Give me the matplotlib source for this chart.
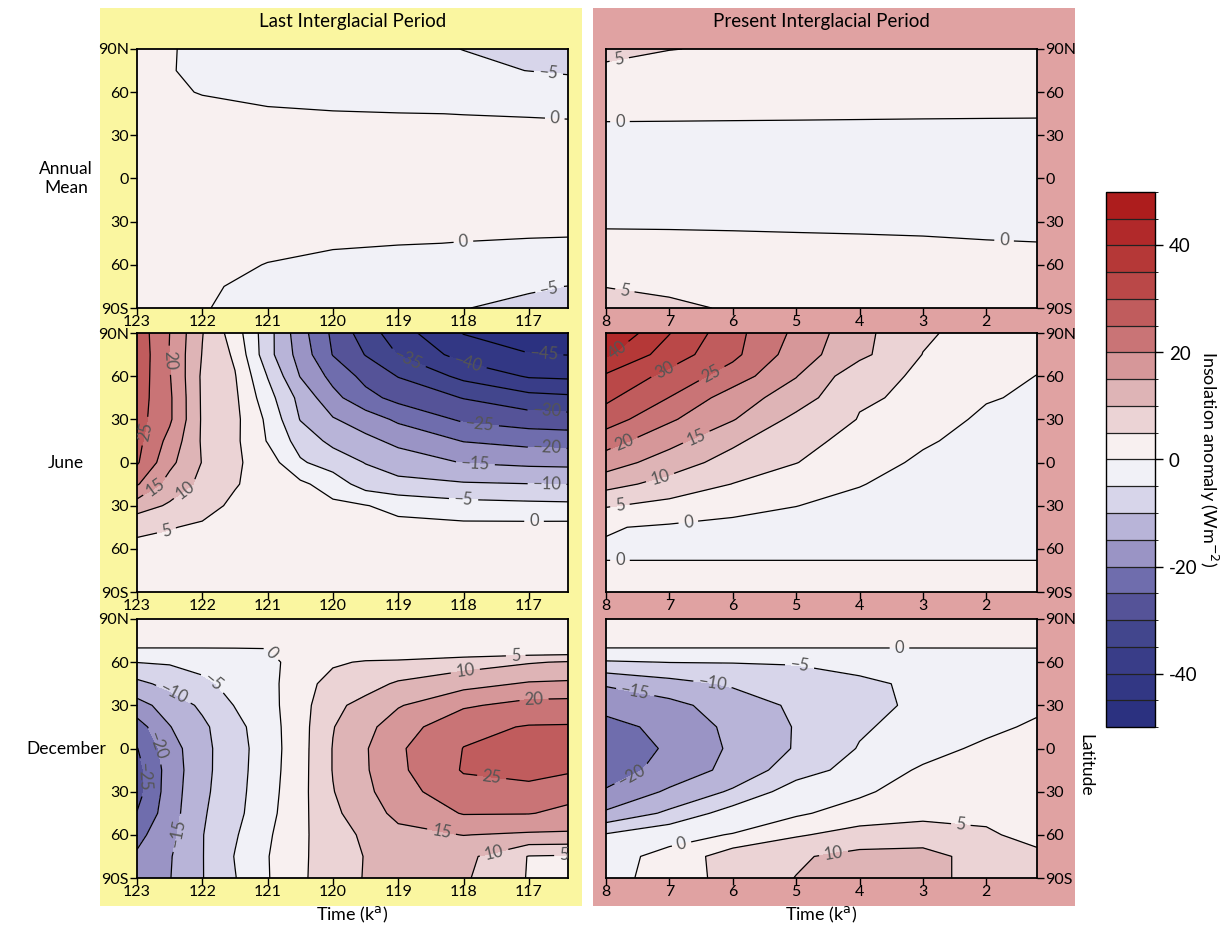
import numpy as np
import matplotlib
matplotlib.use("Agg")
import matplotlib.pyplot as plt
from matplotlib.colors import ListedColormap, BoundaryNorm
from matplotlib.patches import Rectangle
import matplotlib.colorbar as mcolorbar

plt.rcParams['font.family'] = ['Lato', 'DejaVu Sans']

# ============================================================
# GRIDS
# ============================================================

lat = [90, 75, 60, 45, 30, 15, 0, -15, -30, -45, -60, -75, -90]
lat_dec = [90, 75, 70, 60, 45, 30, 15, 0, -15, -30, -45, -60, -75, -90]

time_lig_ann = [123, 122.5, 122, 121, 120, 119, 118, 117, 116.4]
time_lig = [123, 122.5, 122, 121.5, 121, 120.5, 120, 119.5, 119, 118, 117, 116.4]
time_hol = [8, 7, 6, 5, 4, 3, 2, 1.2]

# ============================================================
# INSOLATION ANOMALIES (W m-2), rows = latitude, cols = time
# ============================================================

annual_lig = [
    [2.0, 0.3, -1.0, -2.3, -3.3, -4.2, -5.05, -6.0, -6.6],
    [1.5, 0.2, -0.8, -1.8, -2.7, -3.5, -4.3, -5.05, -5.5],
    [1.2, 0.3, -0.1, -0.8, -1.3, -1.7, -2.1, -2.6, -2.9],
    [1.0, 0.8, 0.6, 0.4, 0.2, 0.07, -0.03, -0.1, -0.15],
    [1.2, 1.1, 1.0, 0.9, 0.8, 0.7, 0.6, 0.5, 0.45],
    [1.3, 1.2, 1.1, 1.0, 0.95, 0.9, 0.85, 0.8, 0.8],
    [1.3, 1.2, 1.1, 1.0, 0.95, 0.9, 0.85, 0.8, 0.8],
    [1.3, 1.2, 1.1, 1.0, 0.95, 0.9, 0.85, 0.8, 0.8],
    [1.2, 1.1, 1.0, 0.9, 0.8, 0.7, 0.6, 0.5, 0.5],
    [1.0, 0.8, 0.6, 0.4, 0.25, 0.1, -0.05, -0.15, -0.2],
    [1.2, 0.9, 0.5, -0.05, -0.6, -1.1, -1.6, -2.0, -2.3],
    [1.8, 1.2, 0.4, -0.8, -1.8, -2.8, -3.8, -4.6, -5.05],
    [2.2, 1.2, 0.2, -1.3, -2.5, -3.7, -4.9, -5.8, -6.3],
]

june_lig = [
    [28, 20, 10.2, 2.5, -8, -18, -26, -32.5, -37.8, -45.2, -47.5, -48],
    [28.5, 19.8, 9.8, 4.2, -8.2, -17, -25.2, -30.2, -35.2, -42, -44.8, -45.1],
    [28, 20.3, 9.2, 5.3, -5.2, -15.2, -21.5, -26.5, -30.2, -36.3, -40.5, -40.9],
    [27.5, 20.8, 9.3, 5.9, -3, -11.5, -18.5, -23.4, -26.5, -30.2, -33.3, -34],
    [27, 20.8, 9.4, 6.2, -1, -10.2, -14.6, -17.5, -20.9, -25.8, -27.6, -28],
    [26.5, 18.4, 9.4, 6.0, -0.3, -7, -11.3, -13.7, -16.2, -20.2, -21.6, -22],
    [25.6, 16.3, 9.8, 5.8, 2.5, -4.4, -7.2, -10.2, -12.4, -15.2, -16.1, -16.3],
    [20.5, 13, 8.8, 5.3, 3.2, 1.0, -2.3, -7.2, -8.6, -9.5, -9.9, -10.1],
    [12.5, 9.3, 6.5, 4.2, 3.2, 2.2, 1.0, 0.2, -1.5, -3.2, -3.7, -3.9],
    [5.9, 5.2, 4.4, 3.6, 3.0, 2.5, 2.1, 1.8, 1.5, 1.3, 1.4, 1.5],
    [4.0, 3.7, 3.4, 3.1, 2.9, 2.7, 2.6, 2.5, 2.5, 2.5, 2.5, 2.5],
    [3.0, 2.9, 2.8, 2.7, 2.6, 2.5, 2.5, 2.5, 2.5, 2.7, 2.8, 2.8],
    [2.5, 2.5, 2.4, 2.4, 2.3, 2.3, 2.3, 2.4, 2.5, 2.8, 2.9, 3.0],
]

dec_lig = [
    [0.3] * 12,
    [0.3] * 12,
    [0.05] * 12,
    [-4.9, -4.5, -3.5, -1.9, -0.8, 1.2, 4.2, 5.55, 5.87, 7.65, 9.6, 10.4],
    [-11.3, -8.5, -6.0, -3.6, -1.4, 2.6, 7.2, 8.2, 10.64, 13.3, 15.5, 15.8],
    [-16.8, -12.9, -9.1, -4.8, -1.7, 3.0, 8.9, 11.5, 14.6, 19.3, 21.7, 21.9],
    [-22.3, -15.2, -11.0, -6.5, -2.2, 3.1, 9.8, 13.6, 17.6, 23.8, 25.3, 25.4],
    [-25.2, -17.3, -11.4, -7.0, -2.4, 3.1, 10.2, 14.6, 19.3, 25.1, 27.5, 27.3],
    [-26.8, -17.8, -11.4, -6.9, -2.2, 3.2, 10.2, 14.5, 19.0, 25.4, 26.3, 25.7],
    [-26.9, -17.5, -11.1, -6.7, -1.9, 3.4, 9.8, 13.8, 18.2, 23.0, 23.8, 21.5],
    [-24.8, -17.2, -10.6, -6.4, -1.5, 3.6, 9.0, 12.6, 16.3, 20.3, 20.2, 19.0],
    [-21.5, -16.4, -10.2, -5.5, -0.7, 3.9, 8.0, 10.8, 13.6, 15.1, 14.3, 14.2],
    [-19.3, -15.4, -10.2, -4.8, -0.2, 4.1, 7.6, 10.2, 12.5, 11.5, 4.8, 4.5],
    [-17.0, -15.2, -10.2, -5.2, -0.3, 4.2, 7.6, 10.3, 12.0, 10.7, 4.7, 3.0],
]

annual_hol = [
    [6.5, 5.1, 4.6, 4.0, 3.5, 3.1, 2.8, 2.6],
    [4.0, 3.4, 3.0, 2.7, 2.3, 2.0, 1.8, 1.6],
    [2.5, 2.0, 1.7, 1.5, 1.3, 1.1, 1.0, 0.9],
    [0.5, 0.45, 0.4, 0.35, 0.3, 0.25, 0.22, 0.2],
    [-0.86, -0.85, -0.85, -0.83, -0.82, -0.8, -0.8, -0.8],
    [-1.5, -1.5, -1.5, -1.5, -1.5, -1.5, -1.5, -1.5],
    [-1.6, -1.6, -1.6, -1.6, -1.6, -1.6, -1.6, -1.6],
    [-1.5, -1.5, -1.5, -1.5, -1.5, -1.5, -1.5, -1.5],
    [-0.8, -0.8, -0.8, -0.8, -0.8, -0.8, -0.8, -0.8],
    [1.6, 1.4, 1.1, 0.8, 0.6, 0.4, 0.15, 0.05],
    [3.0, 2.6, 2.2, 1.8, 1.5, 1.2, 1.0, 0.8],
    [4.9, 4.2, 3.5, 3.0, 2.6, 2.3, 2.0, 1.8],
    [6.8, 5.8, 4.6, 4.2, 3.7, 3.3, 3.0, 2.8],
]

june_hol = [
    [45.2, 35.2, 26.7, 18.9, 11.5, 5.7, 3.0, 2.0],
    [40.8, 32.5, 26.25, 17.5, 11.25, 4.9, 2.2, 1.3],
    [34.2, 28.5, 22.6, 15.2, 6.7, 4.3, 2.0, -0.1],
    [31, 24.9, 17.5, 12.5, 5.4, 4.4, 0.4, -0.8],
    [27.5, 20.7, 15.3, 8.7, 4.8, 2.5, -1.0, -1.8],
    [22, 16.6, 11, 6, 4, 0.7, -2, -2.5],
    [17.5, 12.5, 8.0, 5.1, 2.5, -1.0, -3, -3.5],
    [11.8, 8.2, 4.9, 2.8, 0.3, -2.5, -3.8, -4.0],
    [5.4, 3.5, 1.8, 0.1, -1.8, -3.0, -3.8, -4.0],
    [0.3, -0.6, -1.5, -2.3, -3.0, -3.4, -3.6, -3.7],
    [-0.4, -0.4, -0.4, -0.4, -0.4, -0.4, -0.4, -0.4],
    [0.35, 0.35, 0.35, 0.35, 0.35, 0.35, 0.35, 0.35],
    [0.35, 0.35, 0.35, 0.35, 0.35, 0.35, 0.35, 0.35],
]

dec_hol = [
    [0.3] * 8,
    [0.3] * 8,
    [0.05] * 8,
    [-5.5, -4.9, -4.8, -4.6, -3.8, -3.2, -2.5, -2.1],
    [-14.5, -11.7, -9.4, -7.5, -5.7, -4.3, -3.2, -2.5],
    [-18.3, -16.5, -12.5, -9.2, -6.2, -4.2, -2.7, -1.0],
    [-21.7, -18.5, -13.8, -9.7, -5.6, -3.1, -1.2, 0.8],
    [-23.3, -19.3, -14.2, -9.6, -4.7, -1.8, 1.0, 2.0],
    [-22.4, -18.2, -13.5, -7.3, -3.0, 0.65, 2.5, 2.8],
    [-19.5, -14.2, -9.3, -2.4, -1.0, 2.9, 3.5, 3.3],
    [-14.2, -9.0, -2.7, -0.8, 2.4, 4.3, 4.5, 3.8],
    [-4.5, -1.2, 0.2, 4.5, 6.8, 6.2, 5.3, 4.3],
    [-1.2, 1.0, 8.0, 9.4, 11.5, 12.5, 7.0, 5.5],
    [-1.0, 1.2, 7.5, 10.1, 12.0, 12.5, 7.0, 5.8],
]

# ============================================================
# CONTOUR LABEL SPOTS (time, latitude)
# ============================================================

spots_annual_lig = [(116.6, 44), (118.0, -45), (116.7, 73), (116.7, -73)]
spots_annual_hol = [(7.78, 80), (7.78, 40), (1.72, -44), (7.7, -77)]
spots_june_lig = [(122.52, 71), (122.9, 22), (122.72, -17), (122.19, -23),
                  (122.54, -49), (118.86, 71), (117.94, 68), (116.77, 74),
                  (116.72, 38), (117.76, 24), (116.72, 8), (117.82, -3),
                  (116.72, -15), (118.0, -27), (116.92, -41)]
spots_june_hol = [(7.81, 77), (7.07, 63), (6.36, 64), (7.7, 12), (6.57, 17),
                  (7.15, -10), (7.78, -30), (6.7, -42), (7.78, -68)]
spots_dec_lig = [(120.88, 69), (121.83, 46), (122.44, 38), (122.65, 3),
                 (122.9, -20), (122.34, -59), (117.2, 64), (117.97, 53),
                 (116.92, 35), (117.59, -28), (118.35, -61), (117.56, -67),
                 (116.46, -79)]
spots_dec_hol = [(3.37, 69), (4.94, 59), (6.31, 48), (7.54, 39), (7.62, -16),
                 (6.81, -66), (2.4, -52), (4.42, -70)]

# ============================================================
# LABELS / STYLE
# ============================================================

row_names = ["Annual\nMean", "June", "December"]
period_names = ["Last Interglacial Period", "Present Interglacial Period"]
lat_ticks = [90, 60, 30, 0, -30, -60, -90]
lat_ticklabels = ["90N", "60", "30", "0", "30", "60", "90S"]
lig_ticks = [123, 122, 121, 120, 119, 118, 117]
hol_ticks = [8, 7, 6, 5, 4, 3, 2]
cbar_ticks = [-40, -20, 0, 20, 40]
cbar_ticklabels = ["-40", "-20", "0", "20", "40"]

levels = np.arange(-50, 55, 5)
band_colors = [
    "#2B3180", "#323784", "#393D88", "#42468D", "#555398",
    "#6F6DAD", "#9A94C5", "#B8B4D8", "#D7D5EA", "#F1F1F7",
    "#F8F0F0", "#EBD3D5", "#DEB4B6", "#D69799", "#C97476",
    "#C05C5D", "#BA4848", "#B53837", "#B1292A", "#AD1D1D",
]
cmap = ListedColormap(band_colors)
norm = BoundaryNorm(levels, cmap.N)

YELLOW = "#FAF6A0"
PINK = "#E0A2A2"


def fmt_level(v):
    v = int(round(v))
    return ("\u2212%d" % -v) if v < 0 else "%d" % v


def draw_panel(ax, times, lats, values, spots):
    T, L = np.meshgrid(times, lats)
    Z = np.array(values, dtype=float)
    ax.contourf(T, L, Z, levels=levels, cmap=cmap, norm=norm)
    cs = ax.contour(T, L, Z, levels=levels, colors="black",
                    linewidths=0.9, linestyles="solid")
    ax.clabel(cs, fmt=fmt_level, fontsize=12, colors="#555555",
              inline=True, inline_spacing=5, manual=spots)
    ax.set_ylim(-90, 90)
    ax.set_yticks(lat_ticks)
    ax.set_yticklabels(lat_ticklabels)
    for s in ax.spines.values():
        s.set_linewidth(1.3)
    ax.tick_params(direction="out", length=5, width=1, labelsize=11.5, pad=1)


# ============================================================
# FIGURE
# ============================================================

fig = plt.figure(figsize=(12.28, 9.30), dpi=100)

fig.add_artist(Rectangle((100 / 1228, 24 / 930), 482 / 1228, 898 / 930,
                         transform=fig.transFigure, facecolor=YELLOW,
                         edgecolor="none", zorder=-1))
fig.add_artist(Rectangle((593 / 1228, 24 / 930), 482 / 1228, 898 / 930,
                         transform=fig.transFigure, facecolor=PINK,
                         edgecolor="none", zorder=-1))

col_left = [137 / 1228, 606 / 1228]
col_width = 431 / 1228
row_bottom = [1 - 308 / 930, 1 - 592 / 930, 1 - 878 / 930]
row_height = 259 / 930

panels = [
    [(time_lig_ann, lat, annual_lig, spots_annual_lig),
     (time_hol, lat, annual_hol, spots_annual_hol)],
    [(time_lig, lat, june_lig, spots_june_lig),
     (time_hol, lat, june_hol, spots_june_hol)],
    [(time_lig, lat_dec, dec_lig, spots_dec_lig),
     (time_hol, lat_dec, dec_hol, spots_dec_hol)],
]

for r in range(3):
    for c in range(2):
        ax = fig.add_axes([col_left[c], row_bottom[r], col_width, row_height])
        times, lats, values, spots = panels[r][c]
        if c == 0:
            ax.set_xlim(123, 116.4)
            ax.set_xticks(lig_ticks)
        else:
            ax.set_xlim(8, 1.2)
            ax.set_xticks(hol_ticks)
            ax.yaxis.tick_right()
        draw_panel(ax, times, lats, values, spots)
        ax.tick_params(axis="x", pad=0)

    fig.text(66 / 1228, row_bottom[r] + row_height / 2, row_names[r],
             ha="center", va="center", fontsize=12.5, linespacing=1.2)

for c in range(2):
    xc = col_left[c] + col_width / 2
    fig.text(xc, 1 - 22 / 930, period_names[c], ha="center", va="center",
             fontsize=13.5)
    fig.text(xc, 1 - 915 / 930, "Time (k$^{\\mathrm{a}}$)", ha="center",
             va="center", fontsize=13)

fig.text(1085 / 1228, 1 - 765 / 930, "Latitude", rotation=270,
         ha="center", va="center", fontsize=12.5)

# ============================================================
# COLORBAR
# ============================================================

cax = fig.add_axes([1106 / 1228, 1 - 727 / 930, 49 / 1228, 535 / 930])
cb = mcolorbar.ColorbarBase(cax, cmap=cmap, norm=norm, boundaries=levels,
                            ticks=cbar_ticks, drawedges=True)
cb.set_ticklabels(cbar_ticklabels)
cb.outline.set_linewidth(1.0)
cb.dividers.set_color("#222222")
cb.dividers.set_linewidth(0.9)
cax.tick_params(direction="out", length=6, width=1, labelsize=13.5, pad=4)
cb.set_label("Insolation anomaly (Wm$^{-2}$)", rotation=270, fontsize=13,
             labelpad=16)

fig.savefig("out.png", dpi=100)
